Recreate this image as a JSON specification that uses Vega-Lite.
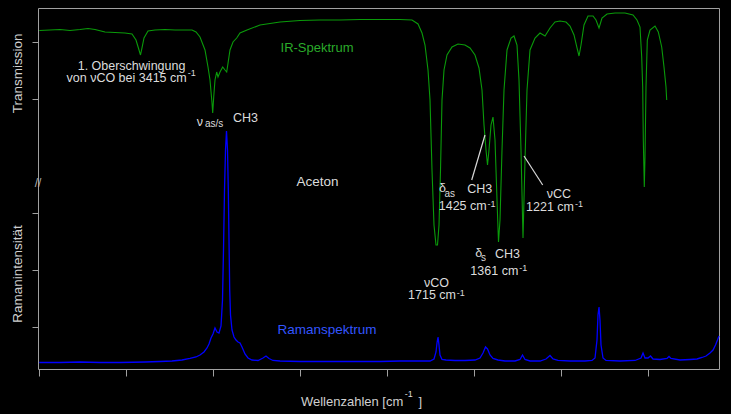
{
  "$schema": "https://vega.github.io/schema/vega-lite/v6.json",
  "width": 681,
  "height": 361,
  "autosize": {"type": "none"},
  "padding": {"left": 38, "top": 8, "right": 12, "bottom": 45},
  "background": "#000000",
  "config": {
    "view": {"stroke": "#a0a0a0", "strokeWidth": 1},
    "axis": {"domain": false, "grid": false, "labels": false, "tickColor": "#a0a0a0", "tickWidth": 1},
    "text": {"font": "Liberation Sans"}
  },
  "datasets": {
    "ir": [
      {"wn":4000,"level":104.04},{"wn":3938.5,"level":104.21},{"wn":3881.1,"level":104.39},{"wn":3823.6,"level":104.04},{"wn":3766.1,"level":104.39},{"wn":3720.1,"level":104.74},{"wn":3679.9,"level":104.39},{"wn":3622.4,"level":103.51},{"wn":3565,"level":103.33},{"wn":3507.5,"level":103.16},{"wn":3467.3,"level":102.81},{"wn":3444.3,"level":100.70},{"wn":3427,"level":97.20},{"wn":3418.4,"level":95.44},{"wn":3409.8,"level":97.90},{"wn":3398.3,"level":101.40},{"wn":3375.3,"level":103.86},{"wn":3335.1,"level":104.21},{"wn":3277.6,"level":104.39},{"wn":3220.1,"level":104.21},{"wn":3162.7,"level":104.21},{"wn":3122.4,"level":104.21},{"wn":3099.4,"level":103.51},{"wn":3076.5,"level":101.75},{"wn":3047.7,"level":97.20},{"wn":3030.5,"level":91.23},{"wn":3019,"level":86.67},{"wn":3007.5,"level":78.60},{"wn":3003.5,"level":75.09},{"wn":2997.7,"level":80.70},{"wn":2990.3,"level":86.67},{"wn":2980.5,"level":89.47},{"wn":2973,"level":87.72},{"wn":2961.5,"level":89.47},{"wn":2946,"level":91.23},{"wn":2932.8,"level":90.18},{"wn":2923,"level":89.47},{"wn":2904.1,"level":97.20},{"wn":2886.8,"level":100.00},{"wn":2865.5,"level":101.40},{"wn":2846.6,"level":103.16},{"wn":2806.4,"level":104.21},{"wn":2731.6,"level":105.97},{"wn":2616.7,"level":107.02},{"wn":2501.8,"level":107.54},{"wn":2386.8,"level":107.72},{"wn":2271.9,"level":107.72},{"wn":2156.9,"level":107.89},{"wn":2042,"level":107.89},{"wn":1927.1,"level":107.89},{"wn":1858.1,"level":107.72},{"wn":1823.6,"level":106.32},{"wn":1800.6,"level":103.16},{"wn":1783.4,"level":98.95},{"wn":1766.1,"level":90.18},{"wn":1754.6,"level":79.65},{"wn":1743.2,"level":55.09},{"wn":1731.7,"level":35.79},{"wn":1720.2,"level":28.77},{"wn":1711.6,"level":28.77},{"wn":1702.9,"level":35.79},{"wn":1694.3,"level":55.09},{"wn":1685.7,"level":79.65},{"wn":1674.2,"level":90.18},{"wn":1657,"level":95.44},{"wn":1628.2,"level":98.25},{"wn":1593.7,"level":99.30},{"wn":1553.5,"level":98.95},{"wn":1524.8,"level":97.90},{"wn":1496.1,"level":95.44},{"wn":1473.1,"level":90.88},{"wn":1455.8,"level":83.16},{"wn":1444.3,"level":70.88},{"wn":1432.8,"level":62.11},{"wn":1424.2,"level":56.84},{"wn":1415.6,"level":62.11},{"wn":1404.1,"level":70.88},{"wn":1392.6,"level":73.68},{"wn":1381.1,"level":65.61},{"wn":1369.6,"level":44.56},{"wn":1361,"level":29.82},{"wn":1352.4,"level":37.54},{"wn":1340.9,"level":62.11},{"wn":1329.4,"level":83.16},{"wn":1312.1,"level":97.20},{"wn":1289.1,"level":101.40},{"wn":1271.9,"level":102.11},{"wn":1254.7,"level":98.95},{"wn":1243.2,"level":86.67},{"wn":1231.7,"level":62.11},{"wn":1220.2,"level":31.23},{"wn":1208.7,"level":58.60},{"wn":1197.2,"level":83.16},{"wn":1179.9,"level":97.20},{"wn":1151.2,"level":101.40},{"wn":1122.5,"level":103.16},{"wn":1093.7,"level":102.11},{"wn":1065,"level":104.91},{"wn":1036.3,"level":107.02},{"wn":1007.5,"level":107.37},{"wn":973.1,"level":107.02},{"wn":950.1,"level":105.61},{"wn":927.1,"level":102.46},{"wn":909.8,"level":97.90},{"wn":898.3,"level":95.09},{"wn":886.8,"level":98.95},{"wn":869.6,"level":105.97},{"wn":846.6,"level":109.12},{"wn":817.9,"level":109.12},{"wn":800.7,"level":107.72},{"wn":783.4,"level":104.91},{"wn":766.2,"level":108.42},{"wn":737.4,"level":109.82},{"wn":691.5,"level":110.18},{"wn":634,"level":110.18},{"wn":588,"level":109.47},{"wn":565.1,"level":107.72},{"wn":547.8,"level":105.26},{"wn":538,"level":94.74},{"wn":532.3,"level":84.21},{"wn":528.8,"level":65.61},{"wn":523.1,"level":49.12},{"wn":519.1,"level":59.65},{"wn":513.3,"level":84.21},{"wn":505.8,"level":100.70},{"wn":490.3,"level":104.21},{"wn":461.6,"level":105.61},{"wn":442.6,"level":103.51},{"wn":423.1,"level":98.25},{"wn":409.9,"level":91.23},{"wn":398.4,"level":84.21},{"wn":394.3,"level":79.65}
    ],
    "raman": [
      {"wn":4000,"level":-12.46},{"wn":3881.1,"level":-12.46},{"wn":3766.1,"level":-12.28},{"wn":3651.2,"level":-12.46},{"wn":3536.2,"level":-12.46},{"wn":3392.5,"level":-12.28},{"wn":3306.3,"level":-12.11},{"wn":3237.4,"level":-11.93},{"wn":3180,"level":-11.58},{"wn":3134,"level":-11.05},{"wn":3099.4,"level":-10.53},{"wn":3076.5,"level":-9.82},{"wn":3053.5,"level":-8.77},{"wn":3036.3,"level":-7.37},{"wn":3024.8,"level":-5.96},{"wn":3013.3,"level":-3.86},{"wn":3001.8,"level":-2.46},{"wn":2990.3,"level":-0.35},{"wn":2978.8,"level":-1.75},{"wn":2967.3,"level":-2.11},{"wn":2955.8,"level":0.35},{"wn":2947.2,"level":9.47},{"wn":2941.4,"level":27.02},{"wn":2935.7,"level":48.07},{"wn":2929.9,"level":62.11},{"wn":2924.2,"level":68.77},{"wn":2918.4,"level":62.11},{"wn":2913.8,"level":48.07},{"wn":2909.8,"level":30.53},{"wn":2905.8,"level":12.98},{"wn":2901.2,"level":4.21},{"wn":2892.6,"level":-1.05},{"wn":2881.1,"level":-3.51},{"wn":2869.6,"level":-4.56},{"wn":2858.1,"level":-5.26},{"wn":2846.6,"level":-5.61},{"wn":2835.1,"level":-7.02},{"wn":2817.9,"level":-9.47},{"wn":2800.6,"level":-10.88},{"wn":2777.6,"level":-11.58},{"wn":2743.1,"level":-11.75},{"wn":2714.4,"level":-10.88},{"wn":2697.2,"level":-10.18},{"wn":2679.9,"level":-11.05},{"wn":2656.9,"level":-11.75},{"wn":2616.7,"level":-11.93},{"wn":2501.8,"level":-12.11},{"wn":2386.8,"level":-12.11},{"wn":2271.9,"level":-12.11},{"wn":2156.9,"level":-12.11},{"wn":2042,"level":-12.11},{"wn":1927.1,"level":-11.93},{"wn":1812.1,"level":-11.93},{"wn":1754.6,"level":-11.93},{"wn":1731.7,"level":-11.23},{"wn":1720.2,"level":-8.77},{"wn":1714.4,"level":-5.61},{"wn":1708.7,"level":-3.51},{"wn":1702.9,"level":-6.32},{"wn":1697.2,"level":-9.82},{"wn":1685.7,"level":-11.40},{"wn":1662.7,"level":-11.58},{"wn":1611,"level":-11.75},{"wn":1553.5,"level":-11.75},{"wn":1496.1,"level":-11.58},{"wn":1467.3,"level":-10.88},{"wn":1450.1,"level":-9.12},{"wn":1435.7,"level":-7.02},{"wn":1424.2,"level":-7.72},{"wn":1409.8,"level":-9.82},{"wn":1392.6,"level":-11.05},{"wn":1363.9,"level":-11.58},{"wn":1323.6,"level":-11.93},{"wn":1266.1,"level":-11.93},{"wn":1237.4,"level":-11.40},{"wn":1223,"level":-9.82},{"wn":1208.7,"level":-11.40},{"wn":1179.9,"level":-11.93},{"wn":1122.5,"level":-11.93},{"wn":1088,"level":-11.23},{"wn":1065,"level":-10.00},{"wn":1047.8,"level":-11.23},{"wn":1019.1,"level":-11.75},{"wn":950.1,"level":-11.93},{"wn":863.9,"level":-11.93},{"wn":823.6,"level":-11.75},{"wn":806.4,"level":-10.88},{"wn":794.9,"level":-4.56},{"wn":789.2,"level":4.21},{"wn":783.4,"level":7.02},{"wn":777.7,"level":2.46},{"wn":771.9,"level":-6.32},{"wn":760.4,"level":-10.88},{"wn":743.2,"level":-11.75},{"wn":662.7,"level":-11.93},{"wn":576.5,"level":-11.75},{"wn":542,"level":-10.88},{"wn":530.5,"level":-9.12},{"wn":519.1,"level":-10.88},{"wn":501.8,"level":-10.88},{"wn":487.5,"level":-10.18},{"wn":473.1,"level":-11.23},{"wn":432.8,"level":-11.40},{"wn":392.6,"level":-11.05},{"wn":381.1,"level":-10.35},{"wn":369.6,"level":-11.05},{"wn":317.9,"level":-11.58},{"wn":260.4,"level":-11.40},{"wn":220.2,"level":-11.23},{"wn":191.5,"level":-10.70},{"wn":168.5,"level":-10.18},{"wn":145.5,"level":-9.12},{"wn":128.2,"level":-8.07},{"wn":113.9,"level":-6.32},{"wn":102.4,"level":-4.56},{"wn":93.8,"level":-3.16}
    ],
    "pointers": [
      {"wn":1515,"level":51.58,"wn_end":1438.6,"level_end":67.37},
      {"wn":1214.4,"level":60.0,"wn_end":1107,"level_end":49.82}
    ],
    "labels": [
      {"wn":2404,"level":97.9,"text":"IR-Spektrum","role":"ir_name"},
      {"wn":2346.6,"level":-1.16,"text":"Ramanspektrum","role":"raman_name"},
      {"wn":2401,"level":51.05,"text":"Aceton","role":"name"},
      {"wn":3470,"level":91.75,"text":"1. Oberschwingung","role":"center"},
      {"wn":3076.5,"level":72.1,"text":"ν","role":"center"},
      {"wn":1682.8,"level":48.77,"text":"δ","role":"center"},
      {"wn":1474.8,"level":25.97,"text":"δ","role":"center"},
      {"wn":1013.3,"level":46.67,"text":"νCC","role":"center"},
      {"wn":1717.3,"level":15.6,"text":"νCO","role":"center"},
      {"wn":3152.9,"level":87.2,"text":"von νCO bei 3415 cm","role":"end"},
      {"wn":1428.8,"level":42.35,"text":"1425 cm","role":"end"},
      {"wn":927.1,"level":42.1,"text":"1221 cm","role":"end"},
      {"wn":1247.2,"level":19.82,"text":"1361 cm","role":"end"},
      {"wn":1605.2,"level":11.1,"text":"1715 cm","role":"end"},
      {"wn":1908.1,"level":-26.21,"text":"Wellenzahlen [cm","role":"axis_end"},
      {"wn":2886.8,"level":73.44,"text":"CH3","role":"start"},
      {"wn":1540.3,"level":48.25,"text":"CH3","role":"start"},
      {"wn":1381.1,"level":25.72,"text":"CH3","role":"start"},
      {"wn":1820.8,"level":-26.21,"text":"]","role":"axis_start"},
      {"wn":3147.1,"level":89.12,"text":"-1","role":"sup"},
      {"wn":1424.2,"level":43.16,"text":"-1","role":"sup"},
      {"wn":921.3,"level":43.0,"text":"-1","role":"sup"},
      {"wn":1241.4,"level":20.53,"text":"-1","role":"sup"},
      {"wn":1601.2,"level":12.1,"text":"-1","role":"sup"},
      {"wn":1900.1,"level":-23.4,"text":"-1","role":"sup"},
      {"wn":3047.7,"level":71.4,"text":"as/s","role":"sub"},
      {"wn":1671.3,"level":46.84,"text":"as","role":"sub"},
      {"wn":1461.6,"level":24.04,"text":"s","role":"sub"},
      {"wn":4122.4,"level":88.98,"text":"Transmission","role":"axis_name"},
      {"wn":4125.3,"level":18.6,"text":"Ramanintensität","role":"axis_name"},
      {"wn":4007.5,"level":50.5,"text":"//","role":"brk"}
    ]
  },
  "encoding": {
    "x": {"field": "wn", "type": "quantitative",
      "scale": {"domain": [4007.5, 93.8], "nice": false, "zero": false},
      "axis": {"values": [4000,3500,3000,2500,2000,1500,1000,500], "tickSize": 7, "labels": false, "title": null}},
    "y": {"field": "level", "type": "quantitative",
      "scale": {"domain": [-14.74, 111.93], "nice": false, "zero": false},
      "axis": {"values": [0,20,40,80,100], "tickSize": 6, "labels": false, "title": null}}
  },
  "layer": [
    {"data": {"name": "ir"}, "mark": {"type": "line", "color": "#0a9a0a", "strokeWidth": 1.1}},
    {"data": {"name": "raman"}, "mark": {"type": "line", "color": "#0000ff", "strokeWidth": 1.3}},
    {"data": {"name": "pointers"}, "mark": {"type": "rule", "color": "#d8d8d8", "strokeWidth": 1.2},
      "encoding": {"x2": {"field": "wn_end"}, "y2": {"field": "level_end"}}},
    {"data": {"name": "labels"}, "transform": [{"filter": "datum.role === 'ir_name'"}],
      "mark": {"type": "text", "fontSize": 13, "color": "#2aaa2a", "align": "center", "baseline": "middle"},
      "encoding": {"text": {"field": "text"}}},
    {"data": {"name": "labels"}, "transform": [{"filter": "datum.role === 'raman_name'"}],
      "mark": {"type": "text", "fontSize": 13.5, "color": "#3355ff", "align": "center", "baseline": "middle"},
      "encoding": {"text": {"field": "text"}}},
    {"data": {"name": "labels"}, "transform": [{"filter": "datum.role === 'name'"}],
      "mark": {"type": "text", "fontSize": 13.5, "color": "#dcdcdc", "align": "center", "baseline": "middle"},
      "encoding": {"text": {"field": "text"}}},
    {"data": {"name": "labels"}, "transform": [{"filter": "datum.role === 'center'"}],
      "mark": {"type": "text", "fontSize": 12.5, "color": "#dcdcdc", "align": "center", "baseline": "middle"},
      "encoding": {"text": {"field": "text"}}},
    {"data": {"name": "labels"}, "transform": [{"filter": "datum.role === 'end'"}],
      "mark": {"type": "text", "fontSize": 12.5, "color": "#dcdcdc", "align": "right", "baseline": "middle"},
      "encoding": {"text": {"field": "text"}}},
    {"data": {"name": "labels"}, "transform": [{"filter": "datum.role === 'start'"}],
      "mark": {"type": "text", "fontSize": 12.5, "color": "#dcdcdc", "align": "left", "baseline": "middle"},
      "encoding": {"text": {"field": "text"}}},
    {"data": {"name": "labels"}, "transform": [{"filter": "datum.role === 'axis_end'"}],
      "mark": {"type": "text", "fontSize": 13, "color": "#d0d0d0", "align": "right", "baseline": "middle"},
      "encoding": {"text": {"field": "text"}}},
    {"data": {"name": "labels"}, "transform": [{"filter": "datum.role === 'axis_start'"}],
      "mark": {"type": "text", "fontSize": 13, "color": "#d0d0d0", "align": "left", "baseline": "middle"},
      "encoding": {"text": {"field": "text"}}},
    {"data": {"name": "labels"}, "transform": [{"filter": "datum.role === 'sup'"}],
      "mark": {"type": "text", "fontSize": 9, "color": "#dcdcdc", "align": "left", "baseline": "middle"},
      "encoding": {"text": {"field": "text"}}},
    {"data": {"name": "labels"}, "transform": [{"filter": "datum.role === 'sub'"}],
      "mark": {"type": "text", "fontSize": 10, "color": "#dcdcdc", "align": "left", "baseline": "middle"},
      "encoding": {"text": {"field": "text"}}},
    {"data": {"name": "labels"}, "transform": [{"filter": "datum.role === 'axis_name'"}],
      "mark": {"type": "text", "fontSize": 13.5, "color": "#d0d0d0", "align": "center", "baseline": "middle", "angle": 270},
      "encoding": {"text": {"field": "text"}}},
    {"data": {"name": "labels"}, "transform": [{"filter": "datum.role === 'brk'"}],
      "mark": {"type": "text", "fontSize": 12, "color": "#b0b0b0", "align": "center", "baseline": "middle"},
      "encoding": {"text": {"field": "text"}}}
  ]
}
